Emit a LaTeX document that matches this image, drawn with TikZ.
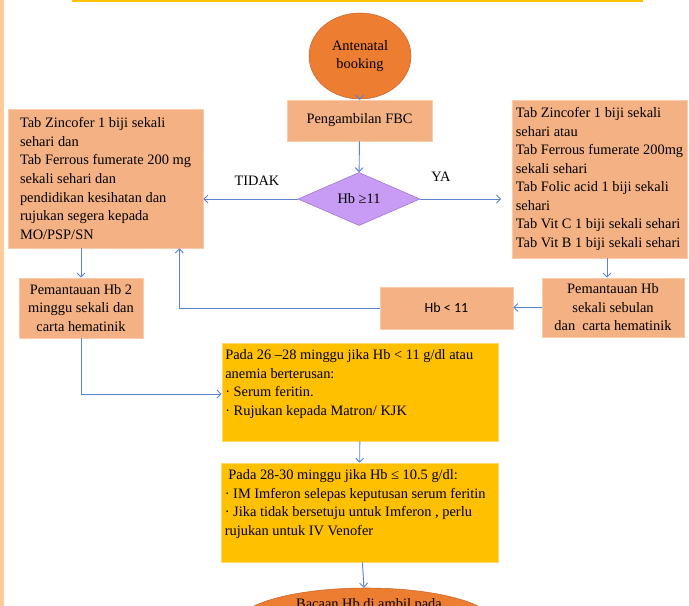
\documentclass[tikz,border=0pt]{standalone}
\usepackage{fontspec}
\setmainfont{Liberation Serif}
\newfontfamily\calibrifont{Carlito}
\usetikzlibrary{shapes.geometric}
\usetikzlibrary{arrows.meta}

\definecolor{ovalorange}{HTML}{ED7D31}
\definecolor{ovaledge}{HTML}{C8652A}
\definecolor{boxfill}{HTML}{F4B183}
\definecolor{boxedge}{HTML}{F8CBAD}
\definecolor{lilac}{HTML}{C89BF5}
\definecolor{lilacedge}{HTML}{9B72D6}
\definecolor{amber}{HTML}{FFC000}
\definecolor{amberedge}{HTML}{FFD966}
\definecolor{linkblue}{HTML}{5B83D3}
\definecolor{peach}{HTML}{FFCC99}

\tikzset{
    txt/.style={font=\fontsize{10.8}{13.9}\selectfont},
    oval/.style={ellipse, txt, fill=ovalorange, draw=ovaledge, thin, align=center, inner sep=0pt},
    box/.style={txt, fill=boxfill, draw=boxedge, thin, inner sep=0pt},
    ybox/.style={txt, fill=amber, draw=amberedge, thin, inner sep=2.5pt},
    check/.style={diamond, txt, fill=lilac, draw=lilacedge, thin, inner sep=0pt,
        minimum width=91.5pt, minimum height=34.5pt},
    link/.style={draw=linkblue, line width=0.7pt, -{Straight Barb[length=3pt,width=6pt]}},
}

\begin{document}
\begin{tikzpicture}[x=0.75pt,y=-0.75pt]
    \useasboundingbox (0,0) rectangle (689,606);
    % frame bits
    \fill[peach] (0,0) rectangle (3.5,606);
    \draw[amber, line width=1.6pt] (72,1) -- (643,1);

    % top part
    \node[oval, minimum width=76.5pt, minimum height=64.5pt] (booking) at (360,56) {Antenatal\\booking};
    \node[box, minimum width=108.75pt, minimum height=30.75pt] (fbc) at (359.5,120.5) {Pengambilan FBC};
    \node[check] (hbcheck) at (359,199) {Hb ≥11};

    \node[box, minimum width=146.25pt, minimum height=104.25pt, align=left] (tidakbox) at (105.5,178.5)
        {Tab Zincofer 1 biji sekali\\sehari dan\\Tab Ferrous fumerate 200 mg\\sekali sehari dan\\pendidikan kesihatan dan\\rujukan segera kepada\\MO/PSP/SN};
    \node[box, minimum width=131.25pt, minimum height=118.5pt, align=left] (yabox) at (599.5,179)
        {Tab Zincofer 1 biji sekali\\sehari atau\\Tab Ferrous fumerate 200mg\\sekali sehari\\Tab Folic acid 1 biji sekali\\sehari\\Tab Vit C 1 biji sekali sehari\\Tab Vit B 1 biji sekali sehari};

    \node[txt] (tidak) at (257,181) {TIDAK};
    \node[txt] (ya) at (441,177) {YA};

    % monitoring
    \node[box, minimum width=93pt, minimum height=45pt, align=center] (pem2) at (81,308)
        {Pemantauan Hb 2\\minggu sekali dan\\carta hematinik};
    \node[box, minimum width=106.5pt, minimum height=44.25pt, align=center] (sebulan) at (613,307.5)
        {Pemantauan Hb\\sekali sebulan\\dan\ \ carta hematinik};
    \node[box, minimum width=99.75pt, minimum height=31.5pt, font=\calibrifont\fontsize{10.5}{12}\selectfont] (hbkurang) at (446.5,308) {Hb < 11};

    % yellow boxes
    \node[ybox, minimum width=207pt, minimum height=73.5pt] (feritin) at (360,392)
        {\parbox[t][68pt][t]{202pt}{\begin{tabular}{@{}l@{}}
        Pada 26 –28 minggu jika Hb < 11 g/dl atau\\
        anemia berterusan:\\
        · Serum feritin.\\
        · Rujukan kepada Matron/ KJK
        \end{tabular}}};
    \node[ybox, minimum width=207.75pt, minimum height=74.25pt] (imferon) at (359.5,512.5)
        {\parbox[t][69pt][t]{202pt}{\begin{tabular}{@{}l@{}}
        \ Pada 28-30 minggu jika Hb ≤ 10.5 g/dl:\\
        · IM Imferon selepas keputusan serum feritin\\
        · Jika tidak bersetuju untuk Imferon , perlu\\
        rujukan untuk IV Venofer
        \end{tabular}}};

    \node[oval, minimum width=192pt, minimum height=52.5pt] (bacaan) at (366,623) {};
    \node[txt, anchor=base] (bacaantext) at (369,608) {Bacaan Hb di ambil pada};

    % connectors
    \draw[link] (booking) -- (fbc);
    \draw[link] (fbc) -- (hbcheck);
    \draw[link] (hbcheck.west) -- (tidakbox.east |- hbcheck.west);
    \draw[link, shorten >=8pt] (hbcheck.east) -- (yabox.west |- hbcheck.east);
    \draw[link] ([xshift=-4.5pt]sebulan.north |- yabox.south) -- ([xshift=-4.5pt]sebulan.north);
    \draw[link] (sebulan.west) -- (hbkurang.east |- sebulan.west);
    \draw[link] (hbkurang.west) -| ([xshift=-18pt]tidakbox.south east);
    \draw[link] (tidakbox.south -| pem2.north) -- (pem2.north);
    \draw[link] (pem2.south) |- ([yshift=-1.5pt]feritin.west);
    \draw[link] (feritin) -- (imferon);
    \draw[link] (imferon) -- (bacaan);
\end{tikzpicture}
\end{document}
